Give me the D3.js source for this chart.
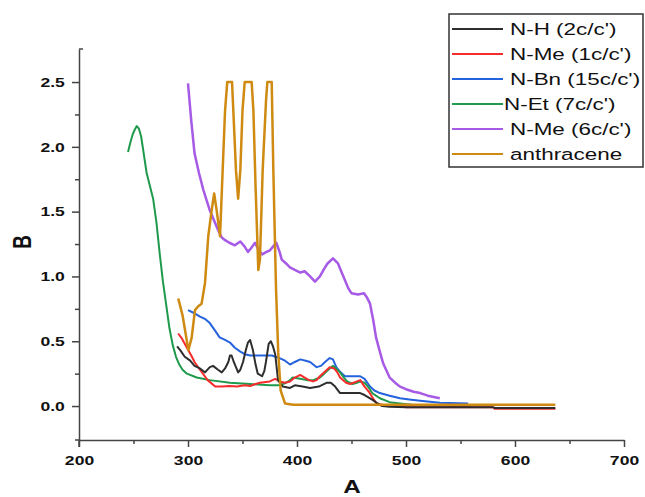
<!DOCTYPE html>
<html lang="en">
<head>
<meta charset="UTF-8">
<title>Absorbance spectra</title>
<script src="https://d3js.org/d3.v7.min.js"></script>
<style>
	body {margin: 0; background: #fff;}
	text {font-family: "Liberation Sans", Arial, sans-serif;}
</style>
</head>
<body>
<div id="chart"></div>
<script>
// wavelength (A) and absorbance (B)
let nhX = [290, 293, 297, 302, 306, 311, 315.6, 320, 323, 327.5, 331, 334, 337, 338.5, 340, 342, 346, 348, 350.5, 353, 355, 357, 359.6, 362, 364, 368, 370, 371.5, 374, 376, 378, 380, 382.6, 385, 387, 393.6, 398, 405, 412, 420, 427.5, 431, 435, 439.5, 458, 462, 469, 474, 478, 485, 500, 580, 582, 637];
let nhY = [0.46, 0.43, 0.38, 0.35, 0.31, 0.29, 0.26, 0.30, 0.31, 0.28, 0.26, 0.29, 0.34, 0.39, 0.39, 0.34, 0.26, 0.28, 0.34, 0.43, 0.49, 0.51, 0.43, 0.32, 0.25, 0.23, 0.27, 0.34, 0.48, 0.50, 0.46, 0.40, 0.20, 0.17, 0.15, 0.14, 0.16, 0.15, 0.14, 0.15, 0.18, 0.18, 0.15, 0.10, 0.10, 0.085, 0.05, 0.02, 0.0, -0.005, -0.01, -0.01, -0.015, -0.015];

let nme1X = [291, 294.5, 299, 303, 306, 311, 318, 325, 331, 338, 345, 352, 357, 362, 366, 375, 380, 384, 389, 393.6, 398, 403, 407, 411, 414.7, 418, 421, 425, 427.5, 430, 434, 437, 439.5, 445, 448.6, 452, 455, 458, 462, 466, 469, 473, 478, 481, 499, 500, 580, 581, 637];
let nme1Y = [0.56, 0.52, 0.45, 0.39, 0.34, 0.28, 0.20, 0.15, 0.15, 0.155, 0.15, 0.16, 0.155, 0.17, 0.18, 0.19, 0.21, 0.19, 0.18, 0.19, 0.22, 0.24, 0.22, 0.20, 0.19, 0.20, 0.23, 0.26, 0.28, 0.30, 0.29, 0.26, 0.22, 0.18, 0.17, 0.18, 0.19, 0.20, 0.15, 0.11, 0.07, 0.02, 0.01, 0.0, 0.0, -0.01, -0.01, -0.02, -0.02];

let nbnX = [300, 305, 311, 316, 320, 325, 329, 334, 338.5, 343, 348, 352, 357, 368, 377, 384, 389, 393.6, 398, 403, 408, 412, 418, 422, 425.7, 430, 433, 436, 440, 444, 458, 462, 467, 471, 476, 485, 494.5, 503, 513, 531, 557];
let nbnY = [0.74, 0.72, 0.69, 0.67, 0.64, 0.58, 0.53, 0.51, 0.49, 0.45, 0.42, 0.40, 0.39, 0.39, 0.39, 0.37, 0.35, 0.32, 0.34, 0.36, 0.35, 0.34, 0.30, 0.31, 0.34, 0.37, 0.36, 0.30, 0.26, 0.23, 0.23, 0.21, 0.15, 0.12, 0.10, 0.08, 0.06, 0.05, 0.04, 0.025, 0.02];

let netX = [245, 247, 249, 251, 253, 255, 257, 259, 262, 265, 268, 271, 274, 277, 280, 283, 286, 289, 292, 295, 299, 308, 320, 338.5, 357, 375, 384, 390, 393.6, 396, 403, 409, 415, 421, 425, 430, 433, 436, 439.5, 443, 446, 451, 455, 458, 462, 466, 469, 476, 485, 494.5, 505, 530, 547, 561];
let netY = [1.96, 2.03, 2.09, 2.13, 2.16, 2.14, 2.08, 1.97, 1.80, 1.70, 1.60, 1.42, 1.18, 0.96, 0.78, 0.60, 0.47, 0.38, 0.32, 0.28, 0.25, 0.22, 0.20, 0.18, 0.17, 0.16, 0.16, 0.18, 0.20, 0.22, 0.21, 0.20, 0.20, 0.22, 0.25, 0.29, 0.31, 0.29, 0.26, 0.22, 0.19, 0.17, 0.18, 0.19, 0.18, 0.14, 0.10, 0.06, 0.03, 0.02, 0.01, 0.005, 0.0, 0.0];

let nme6X = [300, 303, 306, 310, 314, 320, 324, 327.5, 331, 334, 338, 343, 348, 352, 355, 358, 361.5, 365, 368, 372, 375, 378, 381, 384, 386, 390, 393.5, 398, 403, 407, 412, 416.5, 421, 425, 428, 433, 437.6, 441, 444, 447, 450, 456, 461.5, 464, 467, 470, 472.5, 476, 479, 485, 490, 494.5, 500, 507, 513, 520, 531];
let nme6Y = [2.49, 2.2, 1.95, 1.80, 1.67, 1.51, 1.43, 1.36, 1.30, 1.28, 1.26, 1.24, 1.27, 1.23, 1.19, 1.22, 1.26, 1.20, 1.17, 1.19, 1.20, 1.23, 1.26, 1.19, 1.13, 1.10, 1.07, 1.05, 1.03, 1.04, 1.00, 0.96, 1.00, 1.06, 1.10, 1.14, 1.10, 1.03, 0.97, 0.91, 0.87, 0.86, 0.87, 0.84, 0.79, 0.66, 0.53, 0.42, 0.33, 0.22, 0.18, 0.15, 0.13, 0.11, 0.10, 0.08, 0.06];

let anthX = [291, 292, 295, 298, 300.3, 303.4, 306.4, 309.4, 312.5, 315.6, 318.6, 321.7, 324, 326.3, 329.4, 331.8, 334, 336, 340.4, 342, 344, 346, 348, 350, 352, 358.4, 360, 362, 364.5, 366, 368.5, 371.6, 372.8, 376.8, 378.3, 380.7, 382.8, 385, 389, 396.6, 637];
let anthY = [0.83, 0.80, 0.70, 0.55, 0.43, 0.53, 0.74, 0.77, 0.79, 0.95, 1.31, 1.51, 1.64, 1.51, 1.31, 1.82, 2.28, 2.5, 2.5, 2.2, 1.82, 1.60, 1.82, 2.28, 2.5, 2.5, 2.28, 1.69, 1.05, 1.13, 1.82, 2.36, 2.5, 2.5, 1.82, 0.92, 0.41, 0.12, 0.02, 0.01, 0.01];

let seriesNames = ["N-H (2c/c')", "N-Me (1c/c')", "N-Bn (15c/c')", "N-Et (7c/c')", "N-Me (6c/c')", "anthracene"];
let seriesColors = ["#2e2e2e", "#f52c2c", "#2463dd", "#1f9a4c", "#a65ae6", "#cf8a12"];
let xTicks = [200, 300, 400, 500, 600, 700];
let yTicks = [0.0, 0.5, 1.0, 1.5, 2.0, 2.5];

let allX = [nhX, nme1X, nbnX, netX, nme6X, anthX];
let allY = [nhY, nme1Y, nbnY, netY, nme6Y, anthY];
let widths = [2, 2, 2, 2, 2.5, 2.5];
let drawOrder = [4, 2, 3, 1, 0, 5];

let stretch = 1.35; // the text in the picture is pulled wide

let svg = d3.select("#chart").append("svg")
	.attr("width", 645)
	.attr("height", 497);

svg.append("rect").attr("width", 645).attr("height", 497).attr("fill", "#fff");

let x = d3.scaleLinear().domain([200, 700]).range([79, 624]);
let y = d3.scaleLinear().domain([-0.262, 2.755]).range([440, 49]);

//------ axes
svg.append("g")
	.attr("transform", "translate(0,440)")
	.call(d3.axisBottom(x).tickValues(xTicks).tickSizeInner(7).tickSizeOuter(0).tickPadding(8.5));
svg.append("g")
	.attr("transform", "translate(0,440)")
	.call(d3.axisBottom(x).tickValues(d3.range(250, 700, 100)).tickSize(4).tickFormat(""))
	.select(".domain").remove();

svg.append("g")
	.attr("transform", "translate(79,0)")
	.call(d3.axisLeft(y).tickValues(yTicks).tickFormat(d3.format(".1f")).tickSizeInner(7).tickSizeOuter(0).tickPadding(3.5));
svg.append("g")
	.attr("transform", "translate(79,0)")
	.call(d3.axisLeft(y).tickValues([0.25, 0.75, 1.25, 1.75, 2.25]).tickSize(4).tickFormat(""))
	.select(".domain").remove();

svg.selectAll(".domain, .tick line")
	.attr("stroke", "#444")
	.attr("stroke-width", 1.5);

svg.selectAll(".tick text")
	.attr("transform", "scale(" + stretch + ",1)")
	.attr("font-size", "13px")
	.attr("font-weight", "bold")
	.attr("fill", "#111");

// small end cap at top of the y axis and overshoot at the corner
svg.append("line").attr("x1", 79).attr("x2", 83).attr("y1", y(2.755)).attr("y2", y(2.755))
	.attr("stroke", "#444").attr("stroke-width", 1.5);
svg.append("line").attr("x1", 79).attr("x2", 79).attr("y1", 440).attr("y2", 447)
	.attr("stroke", "#444").attr("stroke-width", 1.5);
svg.append("line").attr("x1", 75).attr("x2", 79).attr("y1", 440).attr("y2", 440)
	.attr("stroke", "#444").attr("stroke-width", 1.5);

// axis titles
svg.append("text")
	.attr("transform", "translate(352,493) scale(" + stretch + ",1)")
	.attr("text-anchor", "middle")
	.attr("font-size", "18px")
	.attr("font-weight", "bold")
	.attr("fill", "#111")
	.text("A");

svg.append("text")
	.attr("transform", "translate(31,242) scale(" + stretch + ",1) rotate(-90)")
	.attr("text-anchor", "middle")
	.attr("font-size", "19px")
	.attr("font-weight", "bold")
	.attr("fill", "#111")
	.text("B");

//------ curves
let line = d3.line()
	.x(function(d){ return x(d[0]); })
	.y(function(d){ return y(d[1]); });

drawOrder.forEach(function(i){
	let pts = allX[i].map(function(v, k){ return [v, allY[i][k]]; });
	svg.append("path")
		.datum(pts)
		.attr("fill", "none")
		.attr("stroke", seriesColors[i])
		.attr("stroke-width", widths[i])
		.attr("stroke-linejoin", "round")
		.attr("d", line);
});

//------ legend
let legend = svg.append("g");
legend.append("rect")
	.attr("x", 449).attr("y", 14)
	.attr("width", 194).attr("height", 153)
	.attr("fill", "#fff")
	.attr("stroke", "#333")
	.attr("stroke-width", 1.5);

seriesNames.forEach(function(name, i){
	let rowY = 29 + i * 25;
	legend.append("line")
		.attr("x1", 452).attr("x2", 503)
		.attr("y1", rowY).attr("y2", rowY)
		.attr("stroke", seriesColors[i])
		.attr("stroke-width", 2);
	let tx = (i == 3) ? 504 : 510;
	legend.append("text")
		.attr("transform", "translate(" + tx + "," + (rowY + 6) + ") scale(1.32,1)")
		.attr("font-size", "17px")
		.attr("fill", "#111")
		.text(name);
});
</script>
</body>
</html>
